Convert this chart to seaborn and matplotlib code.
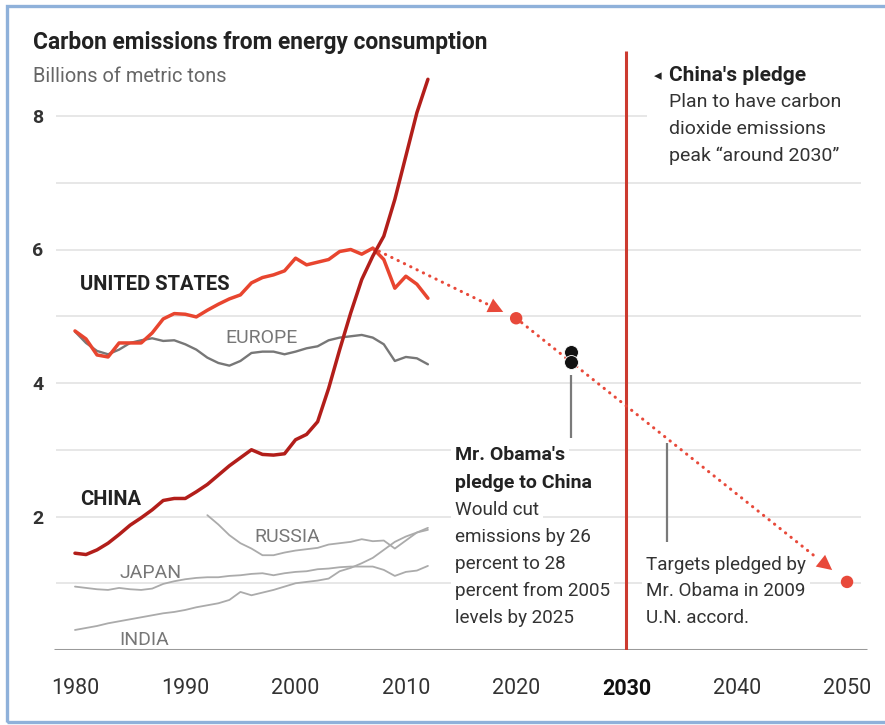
import numpy as np
import pandas as pd
import matplotlib
matplotlib.use("Agg")
import matplotlib.pyplot as plt
import seaborn as sns
from matplotlib.patches import Rectangle

sns.set_theme(style="white")
plt.rcParams["font.family"] = ["Roboto", "DejaVu Sans"]

# Annual CO2 emissions from energy consumption, billions of metric tons
years = list(range(1980, 2013))
united_states = [4.78, 4.66, 4.42, 4.39, 4.60, 4.60, 4.60, 4.75, 4.96, 5.04, 5.03, 4.99,
                 5.09, 5.18, 5.26, 5.32, 5.50, 5.58, 5.62, 5.68, 5.87, 5.77, 5.81, 5.85,
                 5.97, 6.00, 5.93, 6.02, 5.85, 5.42, 5.60, 5.48, 5.27]
china = [1.45, 1.43, 1.50, 1.60, 1.73, 1.87, 1.98, 2.10, 2.24, 2.27, 2.27, 2.37,
         2.48, 2.62, 2.76, 2.88, 3.00, 2.93, 2.92, 2.94, 3.15, 3.23, 3.42, 3.92,
         4.50, 5.05, 5.55, 5.90, 6.20, 6.75, 7.40, 8.05, 8.55]
europe = [4.77, 4.60, 4.48, 4.43, 4.50, 4.60, 4.64, 4.67, 4.63, 4.64, 4.58, 4.50,
          4.38, 4.30, 4.26, 4.33, 4.45, 4.47, 4.47, 4.43, 4.47, 4.52, 4.55, 4.64,
          4.68, 4.70, 4.72, 4.68, 4.58, 4.33, 4.39, 4.37, 4.28]
japan = [0.95, 0.93, 0.91, 0.90, 0.93, 0.91, 0.90, 0.92, 0.99, 1.03, 1.06, 1.08,
         1.09, 1.09, 1.11, 1.12, 1.14, 1.15, 1.12, 1.15, 1.17, 1.18, 1.21, 1.22,
         1.24, 1.25, 1.25, 1.25, 1.20, 1.11, 1.17, 1.19, 1.26]
india = [0.30, 0.33, 0.36, 0.40, 0.43, 0.46, 0.49, 0.52, 0.55, 0.57, 0.60, 0.64,
         0.67, 0.70, 0.75, 0.87, 0.82, 0.86, 0.90, 0.95, 1.00, 1.02, 1.04, 1.07,
         1.18, 1.23, 1.30, 1.38, 1.50, 1.62, 1.70, 1.76, 1.83]
russia_years = list(range(1992, 2013))
russia = [2.02, 1.88, 1.72, 1.60, 1.52, 1.42, 1.42, 1.46, 1.49, 1.51, 1.53, 1.58,
          1.60, 1.62, 1.66, 1.63, 1.64, 1.52, 1.64, 1.76, 1.80]

# U.S. pledge path: 2007 level, 2020 target, 2050 target
pledge_years = [2007, 2020, 2050]
pledge_values = [6.02, 4.97, 1.02]
# U.S.-China deal: 26 to 28 percent below 2005 levels by 2025
deal_years = [2025, 2025]
deal_values = [4.46, 4.31]

x_ticks = [1980, 1990, 2000, 2010, 2020, 2030, 2040, 2050]
y_ticks = [2, 4, 6, 8]
grid_levels = [1, 2, 3, 4, 5, 6, 7]

US_RED = "#e8452f"
CHINA_RED = "#b21e1a"
PLEDGE_RED = "#e8493a"
LINE_2030 = "#cc3b30"
DARK = "#222222"
BODY = "#333333"
ANN = 13.6

fig = plt.figure(figsize=(8.85, 7.25), dpi=100)
ax = fig.add_axes([47.4 / 885, 75 / 725, 821.7 / 885, 600.75 / 725])
ax.set_xlim(1977.5, 2052)
ax.set_ylim(0, 9)
for s in ax.spines.values():
    s.set_visible(False)

# light horizontal grid and baseline
ax.hlines(grid_levels, 1978.3, 2051.3, color="#e3e3e3", lw=1.2, zorder=0)
ax.hlines(8, 1978.3, 2031.9, color="#e3e3e3", lw=1.2, zorder=0)
ax.hlines(0, 1978.1, 2051.8, color="#9a9a9a", lw=2.2, zorder=1)

# secondary countries
for yrs, vals in [(years, japan), (years, india), (russia_years, russia)]:
    sns.lineplot(x=yrs, y=vals, ax=ax, color="#ababab", lw=1.3, zorder=2)
sns.lineplot(x=years, y=europe, ax=ax, color="#777777", lw=1.7, zorder=3)
sns.lineplot(x=years, y=united_states, ax=ax, color=US_RED, lw=2.5, zorder=4)
sns.lineplot(x=years, y=china, ax=ax, color=CHINA_RED, lw=2.5, zorder=5)

# 2030 marker line
ax.vlines(2030, 0, 8.98, color=LINE_2030, lw=2.2, zorder=6)

# dotted pledge path with arrowheads stopping short of each target
for i in range(2):
    x0, x1 = pledge_years[i], pledge_years[i + 1]
    y0, y1 = pledge_values[i], pledge_values[i + 1]
    frac = 0.91 if i == 0 else 0.955
    tx, ty = x0 + frac * (x1 - x0), y0 + frac * (y1 - y0)
    bx, by = x0 + (frac - 0.05) * (x1 - x0), y0 + (frac - 0.05) * (y1 - y0)
    ax.plot([x0, bx], [y0, by], color=PLEDGE_RED, lw=2.2,
            linestyle=(0, (0.1, 2.2)), dash_capstyle="round", zorder=7)
    ax.annotate("", xy=(tx, ty), xytext=(bx, by),
                arrowprops=dict(arrowstyle="-|>,head_length=0.9,head_width=0.45",
                                color=PLEDGE_RED, lw=0, mutation_scale=12,
                                shrinkA=0, shrinkB=0), zorder=7)
sns.scatterplot(x=pledge_years[1:], y=pledge_values[1:], ax=ax, color=PLEDGE_RED,
                s=80, edgecolor="none", zorder=8)
sns.scatterplot(x=deal_years, y=deal_values, ax=ax, color="#111111", s=100,
                edgecolor="white", linewidth=0.6, zorder=8)

# pointer lines for annotations
ax.vlines(2025, 3.18, 4.12, color="#7a7a7a", lw=1.6, zorder=6)
ax.vlines(2033.7, 1.62, 3.1, color="#7a7a7a", lw=1.6, zorder=6)

# ticks
ax.set_xticks(x_ticks)
ax.set_xticklabels([str(x) for x in x_ticks])
ax.set_yticks(y_ticks)
ax.set_yticklabels([str(y) for y in y_ticks])
ax.tick_params(axis="x", length=0, pad=20, labelsize=15.5, labelcolor=BODY)
ax.tick_params(axis="y", length=0, pad=3, labelsize=14, labelcolor=BODY)
for lbl in ax.get_yticklabels():
    lbl.set_fontweight("bold")
for lbl in ax.get_xticklabels():
    if lbl.get_text() == "2030":
        lbl.set_fontweight("bold")
        lbl.set_color("#111111")
ax.set_xlabel("")
ax.set_ylabel("")

# series labels
ax.text(1980.45, 5.48, "UNITED STATES", fontsize=14.5, fontweight="bold", color=DARK, va="center")
ax.text(1993.6, 4.67, "EUROPE", fontsize=14, color="#777777", va="center")
ax.text(1980.45, 2.25, "CHINA", fontsize=14.5, fontweight="bold", color=DARK, va="center")
ax.text(1996.3, 1.69, "RUSSIA", fontsize=14, color="#777777", va="center")
ax.text(1984.0, 1.15, "JAPAN", fontsize=14, color="#777777", va="center")
ax.text(1984.0, 0.15, "INDIA", fontsize=14, color="#777777", va="center")

# annotations
box = dict(facecolor="white", edgecolor="none", pad=3)
obama_head = [("Mr. Obama's", 2.92), ("pledge to China", 2.50)]
obama_body = [("Would cut", 2.10), ("emissions by 26", 1.69), ("percent to 28", 1.29),
              ("percent from 2005", 0.88), ("levels by 2025", 0.48)]
for t, yv in obama_head:
    ax.text(2014.45, yv, t, fontsize=ANN + 0.4, fontweight="bold", color=DARK, va="center",
            bbox=box, zorder=5.5)
for t, yv in obama_body:
    ax.text(2014.45, yv, t, fontsize=ANN, color=BODY, va="center",
            bbox=box, zorder=5.5)

targets = [("Targets pledged by", 1.27), ("Mr. Obama in 2009", 0.88), ("U.N. accord.", 0.48)]
for t, yv in targets:
    ax.text(2031.8, yv, t, fontsize=ANN, color=BODY, va="center", bbox=box, zorder=5.5)

ax.text(2032.8, 8.61, "\u25c2", fontsize=11, color=DARK, va="center", ha="center",
        family=["DejaVu Sans"])
ax.text(2033.85, 8.61, "China's pledge", fontsize=15, fontweight="bold", color=DARK,
        va="center", bbox=box, zorder=5.5)
china_body = [("Plan to have carbon", 8.21), ("dioxide emissions", 7.81),
              ("peak \u201caround 2030\u201d", 7.40)]
for t, yv in china_body:
    ax.text(2033.85, yv, t, fontsize=ANN + 0.4, color=BODY, va="center", bbox=box, zorder=5.5)

# title block
fig.text(33 / 885, 1 - 43 / 725, "Carbon emissions from energy consumption",
         fontsize=16.4, fontweight="bold", color=DARK, va="center")
fig.text(33 / 885, 1 - 77 / 725, "Billions of metric tons", fontsize=14.4,
         color="#666666", va="center")

# outer frame (open on the right edge)
fig.patches.append(Rectangle((6.5 / 885, 3 / 725), 1.2, 1 - 9 / 725,
                             transform=fig.transFigure, fill=False,
                             edgecolor="#8fb1da", lw=2.4))

fig.savefig("out.png", dpi=100, facecolor="white")
